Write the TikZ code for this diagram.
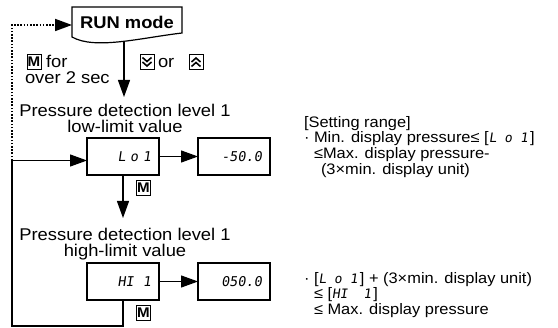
\documentclass[tikz,border=0pt]{standalone}
\usepackage{fontspec}
\setmainfont[FakeStretch=1.08]{Liberation Sans}
\newfontfamily\segfont[FakeSlant=0.15]{DejaVu Sans Mono}
\usetikzlibrary{arrows.meta,calc}
\newcommand{\pdtext}{\fontsize{17}{16}\selectfont}
\newcommand{\pdrange}{\fontsize{15.2}{15.7}\selectfont}
\newcommand{\pdseg}{\fontsize{13.5}{13.5}\selectfont\segfont}
\newcommand{\pdsegsmall}{\fontsize{13}{13}\selectfont\segfont}

\begin{document}
\begin{tikzpicture}[x=1pt,y=-1pt,line width=1.2pt,>={Triangle[length=17pt,width=12pt]}]
	\useasboundingbox (0,0) rectangle (558,328);
	\begin{scope}
		\tikzstyle{every node}=[inner sep=0pt,outer sep=0pt]
		\tikzstyle{dispbox}=[draw,minimum width=72pt,minimum height=37pt,text width=56pt,align=right,font=\pdseg]
		\tikzstyle{keybox}=[draw,line width=1pt,minimum width=14pt,minimum height=15pt,font=\fontsize{14}{14}\selectfont\bfseries]
		\tikzstyle{runbox}=[minimum width=110pt,minimum height=30pt,font=\fontsize{17}{17}\selectfont\bfseries]
		\tikzstyle{title}=[align=center,font=\pdtext]
		\tikzstyle{rangetext}=[align=left,font=\pdrange]
		\tikzstyle{dots}=[line width=1.8pt,dash pattern=on 1.6pt off 1.6pt]
		% RUN mode
		\node[runbox] (run) at (127,22) {RUN mode};
		\draw (run.north west) -- (run.north east) -- ([yshift=4pt]run.south east)
			.. controls ($(run.south west)+(68,1)$) and ($(run.south west)+(23,13)$) .. (run.south west) -- cycle;
		\coordinate (runout) at (124,42);
		\node[keybox] (mkey) at (34,62) {M};
		\node[anchor=base west,font=\pdtext] (mfor) at (46,68) {for};
		\node[anchor=base west,font=\pdtext] (mover) at (25,84) {over 2 sec};
		\node[keybox] (dnkey) at (147,62) {};
		\draw[line width=1.6pt,shift={(dnkey.center)}] (-4.5,-4.5) -- (0,-0.5) -- (4.5,-4.5) (-4.5,0) -- (0,4) -- (4.5,0);
		\node[anchor=base west,font=\pdtext] (orword) at (158,68) {or};
		\node[keybox] (upkey) at (196,62) {};
		\draw[line width=1.6pt,shift={(upkey.center)}] (-4.5,4.5) -- (0,0.5) -- (4.5,4.5) (-4.5,0) -- (0,-4) -- (4.5,0);
		% low-limit value
		\node[title,anchor=north] (lowtitle) at (125,104) {Pressure detection level 1\\low-limit value};
		\draw[->,shorten >=7pt] (runout) -- (runout |- lowtitle.north);
		\node[dispbox] (lo1) at (123,156.5) {L~o~1};
		\node[dispbox] (lo1val) at (234,156.5) {-50.0};
		\draw[->] (lo1) -- (lo1val);
		\node[keybox] (mlo) at (143.5,188) {M};
		% high-limit value
		\node[title,anchor=north] (hititle) at (125,228) {Pressure detection level 1\\high-limit value};
		\draw[->,shorten >=10pt] (lo1.south) -- (lo1.south |- hititle.north);
		\node[dispbox] (hi1) at (123,281.5) {HI~~1};
		\node[dispbox] (hi1val) at (234,281.5) {050.0};
		\draw[->] (hi1) -- (hi1val);
		\node[keybox] (mhi) at (143.5,313) {M};
		% loop back
		\coordinate (loopleft) at (12,326);
		\coordinate (fork) at (12,160.5);
		\draw[->] (hi1.south) |- (loopleft) -- (fork) -- (fork -| lo1.west);
		\draw[dots,->] (fork) |- ([yshift=-3pt]run.west);
		% setting ranges
		\node[rangetext,anchor=north west] (range1) at (304,116) {[Setting range]\\
			· Min. display pressure≤ [{\pdsegsmall L~o~1\,}]\\
			\hspace*{10pt}≤Max. display pressure-\\
			\hspace*{17pt}(3×min. display unit)};
		\node[rangetext,anchor=north west] (range2) at (304,272) {· [{\pdsegsmall L~o~1\,}] + (3×min. display unit)\\
			\hspace*{10pt}≤ [{\pdsegsmall HI~~1\,}]\\
			\hspace*{10pt}≤ Max. display pressure};
	\end{scope}
\end{tikzpicture}
\end{document}
